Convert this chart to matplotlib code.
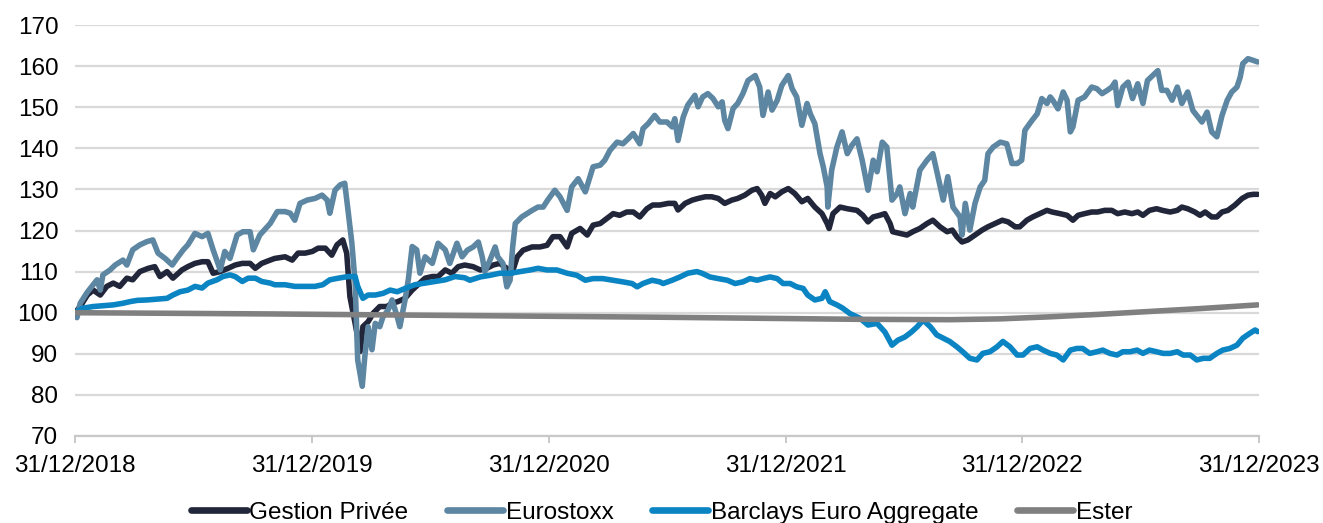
import numpy as np
import pandas as pd
import matplotlib
matplotlib.use("Agg")
import matplotlib.pyplot as plt
import matplotlib.dates as mdates

plt.rcParams['font.family'] = ['Liberation Sans', 'DejaVu Sans']

start_date = "2018-12-31"
tick_dates = ["2018-12-31", "2019-12-31", "2020-12-31", "2021-12-31", "2022-12-31", "2023-12-31"]
tick_labels = ["31/12/2018", "31/12/2019", "31/12/2020", "31/12/2021", "31/12/2022", "31/12/2023"]
y_ticks = [70, 80, 90, 100, 110, 120, 130, 140, 150, 160, 170]
series_names = ["Gestion Privée", "Eurostoxx", "Barclays Euro Aggregate", "Ester"]
series_colors = ["#22263a", "#5c86a2", "#0a84c2", "#808080"]

# (days since 31/12/2018, index value)
gestion_privee = [
    (0, 100.0), (8, 101.5), (19, 104.3), (28, 105.5), (39, 104.3), (49, 106.4), (59, 107.2), (69, 106.4),
    (80, 108.4), (89, 108.0), (100, 110.0), (113, 110.8), (123, 111.2), (131, 108.8), (142, 110.0),
    (151, 108.4), (165, 110.4), (174, 111.2), (185, 112.0), (196, 112.4), (205, 112.4), (213, 109.6),
    (224, 110.0), (236, 110.8), (247, 111.6), (258, 112.0), (270, 112.0), (278, 110.8), (288, 112.0),
    (301, 112.8), (308, 113.2), (324, 113.6), (335, 112.8), (344, 114.5), (355, 114.5), (366, 114.9),
    (375, 115.7), (386, 115.7), (396, 114.0), (404, 116.5), (413, 117.7), (419, 114.5), (424, 103.9),
    (432, 97.4), (440, 90.6), (444, 96.6), (452, 97.8), (460, 99.9), (470, 101.5), (481, 101.5),
    (489, 102.3), (498, 102.7), (509, 103.5), (520, 105.5), (529, 106.8), (540, 108.4), (551, 108.8),
    (560, 108.8), (571, 110.4), (581, 109.6), (591, 111.2), (601, 111.6), (614, 111.2), (625, 110.4),
    (635, 110.8), (645, 111.6), (655, 112.0), (666, 110.8), (674, 109.6), (682, 113.6), (691, 115.2),
    (705, 116.0), (717, 116.0), (728, 116.4), (737, 118.5), (748, 118.5), (759, 116.0), (766, 119.3),
    (779, 120.5), (790, 118.9), (799, 121.3), (810, 121.7), (820, 122.9), (830, 124.1), (840, 123.7),
    (851, 124.5), (861, 124.5), (871, 123.3), (882, 125.3), (891, 126.2), (902, 126.2), (915, 126.6),
    (925, 126.6), (930, 125.0), (941, 126.6), (952, 127.4), (961, 127.8), (972, 128.2), (982, 128.2),
    (992, 127.8), (1002, 126.6), (1013, 127.4), (1022, 127.8), (1033, 128.6), (1044, 129.8),
    (1052, 130.2), (1059, 128.6), (1064, 126.6), (1072, 129.0), (1080, 128.2), (1090, 129.4),
    (1100, 130.2), (1110, 129.0), (1121, 127.0), (1130, 127.8), (1141, 125.7), (1152, 124.1),
    (1160, 121.7), (1163, 120.5), (1169, 124.1), (1180, 125.7), (1191, 125.3), (1206, 124.9),
    (1215, 123.7), (1223, 122.1), (1231, 123.3), (1241, 123.7), (1249, 124.1), (1257, 121.7),
    (1261, 119.7), (1272, 119.3), (1283, 118.9), (1292, 119.7), (1303, 120.5), (1314, 121.7),
    (1323, 122.5), (1334, 120.9), (1345, 119.7), (1353, 120.1), (1360, 118.5), (1368, 117.2),
    (1377, 117.7), (1388, 118.9), (1399, 120.1), (1408, 120.9), (1419, 121.7), (1430, 122.5),
    (1439, 122.1), (1450, 120.9), (1457, 120.9), (1468, 122.5), (1477, 123.3), (1488, 124.1),
    (1499, 124.9), (1507, 124.5), (1519, 124.1), (1530, 123.7), (1539, 122.5), (1547, 123.7),
    (1557, 124.1), (1568, 124.5), (1577, 124.5), (1588, 124.9), (1599, 124.9), (1608, 124.1),
    (1619, 124.5), (1630, 124.1), (1639, 124.5), (1647, 123.7), (1657, 124.9), (1668, 125.3),
    (1677, 124.9), (1689, 124.5), (1700, 124.9), (1707, 125.7), (1716, 125.3), (1727, 124.5),
    (1735, 123.7), (1743, 124.5), (1753, 123.3), (1761, 123.3), (1769, 124.5), (1778, 124.9),
    (1789, 126.2), (1800, 127.8), (1809, 128.6), (1817, 128.8), (1824, 128.8),
]

eurostoxx = [
    (0, 100.0), (3, 98.8), (8, 102.3), (19, 105.0), (28, 106.8), (34, 108.0), (39, 105.5), (43, 109.2),
    (54, 110.4), (62, 111.6), (74, 112.8), (80, 111.6), (89, 115.3), (100, 116.5), (111, 117.3),
    (120, 117.7), (128, 114.5), (139, 113.2), (150, 111.6), (157, 113.2), (167, 115.3), (174, 116.5),
    (185, 119.3), (196, 118.5), (205, 119.3), (213, 115.3), (224, 110.4), (231, 114.9), (239, 113.2),
    (250, 118.9), (259, 119.7), (270, 119.7), (275, 115.3), (285, 118.9), (301, 121.7), (312, 124.6),
    (324, 124.6), (332, 124.2), (339, 122.5), (347, 126.6), (358, 127.4), (370, 127.8), (381, 128.6),
    (389, 127.4), (393, 124.2), (401, 129.8), (409, 131.1), (416, 131.5), (421, 125.0), (427, 116.9),
    (432, 107.3), (436, 88.5), (443, 82.1), (447, 89.4), (452, 96.6), (458, 91.0), (463, 97.4),
    (470, 96.6), (475, 99.0), (483, 100.7), (489, 103.1), (497, 99.0), (501, 96.6), (509, 103.1),
    (514, 108.0), (520, 116.1), (527, 115.3), (532, 109.6), (540, 113.6), (551, 112.0), (560, 116.9),
    (571, 115.3), (578, 112.0), (589, 116.9), (597, 113.6), (605, 115.2), (614, 116.0), (622, 117.2),
    (628, 113.6), (632, 110.0), (640, 112.8), (648, 116.0), (652, 113.6), (660, 112.0), (666, 106.3),
    (671, 107.9), (675, 116.0), (679, 121.7), (689, 123.3), (697, 124.1), (705, 124.9), (714, 125.7),
    (722, 125.7), (729, 127.4), (740, 129.8), (748, 128.2), (759, 124.9), (766, 130.6), (776, 132.6),
    (787, 129.4), (799, 135.5), (810, 135.9), (817, 137.1), (825, 139.5), (836, 141.5), (845, 141.1),
    (853, 142.3), (861, 143.6), (871, 141.1), (876, 144.8), (884, 146.0), (894, 148.0), (902, 146.4),
    (913, 146.4), (921, 145.2), (925, 147.2), (930, 141.9), (938, 147.6), (945, 150.5), (956, 152.9),
    (961, 150.1), (968, 152.5), (976, 153.3), (984, 152.1), (992, 150.1), (998, 151.3), (1002, 146.8),
    (1007, 144.8), (1015, 149.7), (1022, 150.9), (1030, 153.3), (1038, 156.5), (1049, 157.7),
    (1056, 154.9), (1061, 148.0), (1069, 153.7), (1075, 149.3), (1083, 151.7), (1090, 155.3),
    (1100, 157.7), (1106, 154.5), (1113, 152.5), (1121, 145.6), (1129, 150.9), (1134, 148.4),
    (1141, 146.0), (1149, 138.7), (1154, 135.5), (1160, 130.6), (1161, 125.7), (1167, 134.7),
    (1175, 140.3), (1183, 144.0), (1191, 138.7), (1198, 140.7), (1206, 142.3), (1214, 137.1),
    (1223, 129.8), (1231, 137.1), (1237, 134.3), (1245, 141.5), (1252, 140.3), (1260, 127.4),
    (1268, 129.0), (1272, 130.6), (1280, 124.1), (1288, 129.0), (1292, 125.7), (1303, 134.7),
    (1314, 137.1), (1323, 138.7), (1331, 133.1), (1339, 127.4), (1346, 133.1), (1354, 125.7),
    (1365, 123.3), (1368, 118.9), (1373, 126.6), (1380, 120.1), (1388, 126.6), (1396, 130.6),
    (1403, 132.2), (1408, 138.7), (1416, 140.3), (1427, 141.5), (1437, 141.1), (1445, 136.3),
    (1453, 136.3), (1460, 137.1), (1465, 144.4), (1476, 146.8), (1484, 148.4), (1491, 152.1),
    (1499, 150.9), (1504, 152.5), (1508, 151.7), (1516, 149.6), (1524, 153.7), (1530, 151.7),
    (1535, 144.0), (1539, 145.2), (1547, 151.7), (1557, 152.5), (1568, 154.9), (1576, 154.5),
    (1584, 153.3), (1592, 154.1), (1599, 154.9), (1604, 156.1), (1608, 150.4), (1616, 154.9),
    (1624, 156.1), (1631, 152.1), (1639, 155.7), (1647, 150.9), (1654, 156.5), (1662, 157.7),
    (1670, 158.9), (1676, 154.1), (1684, 154.1), (1692, 151.7), (1700, 154.9), (1707, 150.9),
    (1716, 153.7), (1724, 149.2), (1732, 147.6), (1738, 146.4), (1746, 148.8), (1753, 144.0),
    (1761, 142.8), (1769, 148.0), (1777, 151.7), (1784, 153.7), (1792, 154.9), (1797, 157.3),
    (1801, 160.6), (1809, 161.8), (1817, 161.4), (1824, 161.0),
]

barclays = [
    (0, 100.0), (12, 101.1), (28, 101.5), (43, 101.7), (59, 101.9), (74, 102.3), (85, 102.7), (96, 103.0),
    (111, 103.1), (126, 103.3), (142, 103.5), (151, 104.3), (162, 105.1), (174, 105.5), (185, 106.4),
    (196, 106.0), (205, 107.2), (219, 108.0), (228, 108.8), (239, 109.2), (247, 108.8), (258, 107.6),
    (267, 108.4), (278, 108.4), (288, 107.6), (301, 107.2), (308, 106.8), (324, 106.8), (339, 106.4),
    (355, 106.4), (370, 106.4), (382, 106.8), (393, 108.0), (406, 108.4), (421, 108.8), (432, 108.8),
    (436, 106.4), (444, 103.5), (452, 104.3), (463, 104.3), (475, 104.7), (486, 105.5), (497, 105.1),
    (509, 105.9), (524, 106.8), (540, 107.2), (555, 107.6), (571, 108.0), (586, 108.8), (601, 108.5),
    (609, 107.9), (625, 108.7), (640, 109.1), (655, 109.6), (671, 109.6), (686, 110.0), (702, 110.4),
    (714, 110.8), (728, 110.4), (743, 110.4), (759, 109.6), (774, 109.1), (787, 107.9), (799, 108.3),
    (814, 108.3), (830, 107.9), (845, 107.5), (859, 107.1), (867, 106.3), (876, 107.1), (890, 107.9),
    (902, 107.5), (907, 107.1), (921, 107.9), (933, 108.7), (945, 109.6), (959, 110.0), (967, 109.6),
    (979, 108.7), (992, 108.3), (1006, 107.9), (1018, 107.1), (1030, 107.5), (1041, 108.3),
    (1052, 107.9), (1061, 108.3), (1072, 108.7), (1083, 108.3), (1092, 107.1), (1103, 107.1),
    (1113, 106.3), (1123, 105.9), (1130, 104.3), (1141, 103.1), (1152, 103.5), (1157, 105.1),
    (1164, 102.7), (1175, 101.9), (1184, 101.1), (1195, 99.8), (1211, 98.6), (1223, 97.0),
    (1237, 97.4), (1249, 95.3), (1260, 92.1), (1269, 93.3), (1280, 94.1), (1290, 95.3), (1299, 96.6),
    (1308, 98.2), (1319, 96.6), (1329, 94.6), (1339, 93.8), (1349, 93.0), (1360, 91.7), (1369, 90.5),
    (1380, 88.9), (1391, 88.5), (1400, 90.1), (1411, 90.5), (1422, 91.7), (1431, 93.0), (1442, 91.7),
    (1453, 89.7), (1462, 89.7), (1473, 91.3), (1484, 91.7), (1493, 90.9), (1504, 90.1), (1514, 89.7),
    (1524, 88.5), (1535, 90.9), (1545, 91.3), (1554, 91.3), (1565, 90.1), (1576, 90.5), (1585, 90.9),
    (1596, 90.1), (1607, 89.7), (1616, 90.5), (1627, 90.5), (1638, 90.9), (1647, 90.1), (1657, 90.9),
    (1668, 90.5), (1678, 90.1), (1689, 90.1), (1700, 90.5), (1709, 89.7), (1720, 89.7), (1730, 88.5),
    (1740, 88.9), (1750, 88.9), (1761, 90.1), (1770, 90.9), (1781, 91.3), (1792, 92.1), (1801, 93.8),
    (1812, 95.0), (1820, 95.8), (1824, 95.4),
]

ester = [
    (0, 100.0), (301, 99.7), (601, 99.3), (902, 98.9), (1203, 98.4), (1349, 98.3), (1427, 98.5),
    (1504, 99.0), (1580, 99.6), (1657, 100.3), (1735, 101.0), (1824, 101.9),
]

all_series = [gestion_privee, eurostoxx, barclays, ester]

fig = plt.figure(figsize=(13.23, 5.23), dpi=100)
ax = fig.add_axes([75 / 1323, 87 / 523, 1184 / 1323, 411 / 523])

t0 = pd.Timestamp(start_date)
for name, color, data in zip(series_names, series_colors, all_series):
    arr = np.array(data, dtype=float)
    dates = t0 + pd.to_timedelta(arr[:, 0], unit="D")
    ax.plot(dates, arr[:, 1], color=color, lw=4.0, label=name,
            solid_capstyle="round", solid_joinstyle="round")

ax.set_ylim(70, 170)
ax.set_yticks(y_ticks)
ax.set_xlim(pd.Timestamp(tick_dates[0]), pd.Timestamp(tick_dates[-1]))
ax.set_xticks([pd.Timestamp(d) for d in tick_dates])
ax.set_xticklabels(tick_labels)

ax.grid(axis="y", color="#d9d9d9", lw=1.6)
ax.set_axisbelow(True)
for s in ["top", "right", "left"]:
    ax.spines[s].set_visible(False)
ax.spines["bottom"].set_color("#c8c8c8")
ax.spines["bottom"].set_linewidth(1.6)
ax.tick_params(axis="y", length=0, pad=12, labelsize=17.5, labelcolor="#000000")
ax.tick_params(axis="x", length=5, width=1.4, color="#c8c8c8", pad=9, labelsize=17.5,
               labelcolor="#000000")

leg = fig.legend(loc="center", bbox_to_anchor=(0.5, 0.02), ncol=4, frameon=False,
                 fontsize=17.5, handlelength=2.3, handletextpad=0.1, columnspacing=1.6)
for line in leg.get_lines():
    line.set_linewidth(4.8)

fig.savefig("out.png", dpi=100)
